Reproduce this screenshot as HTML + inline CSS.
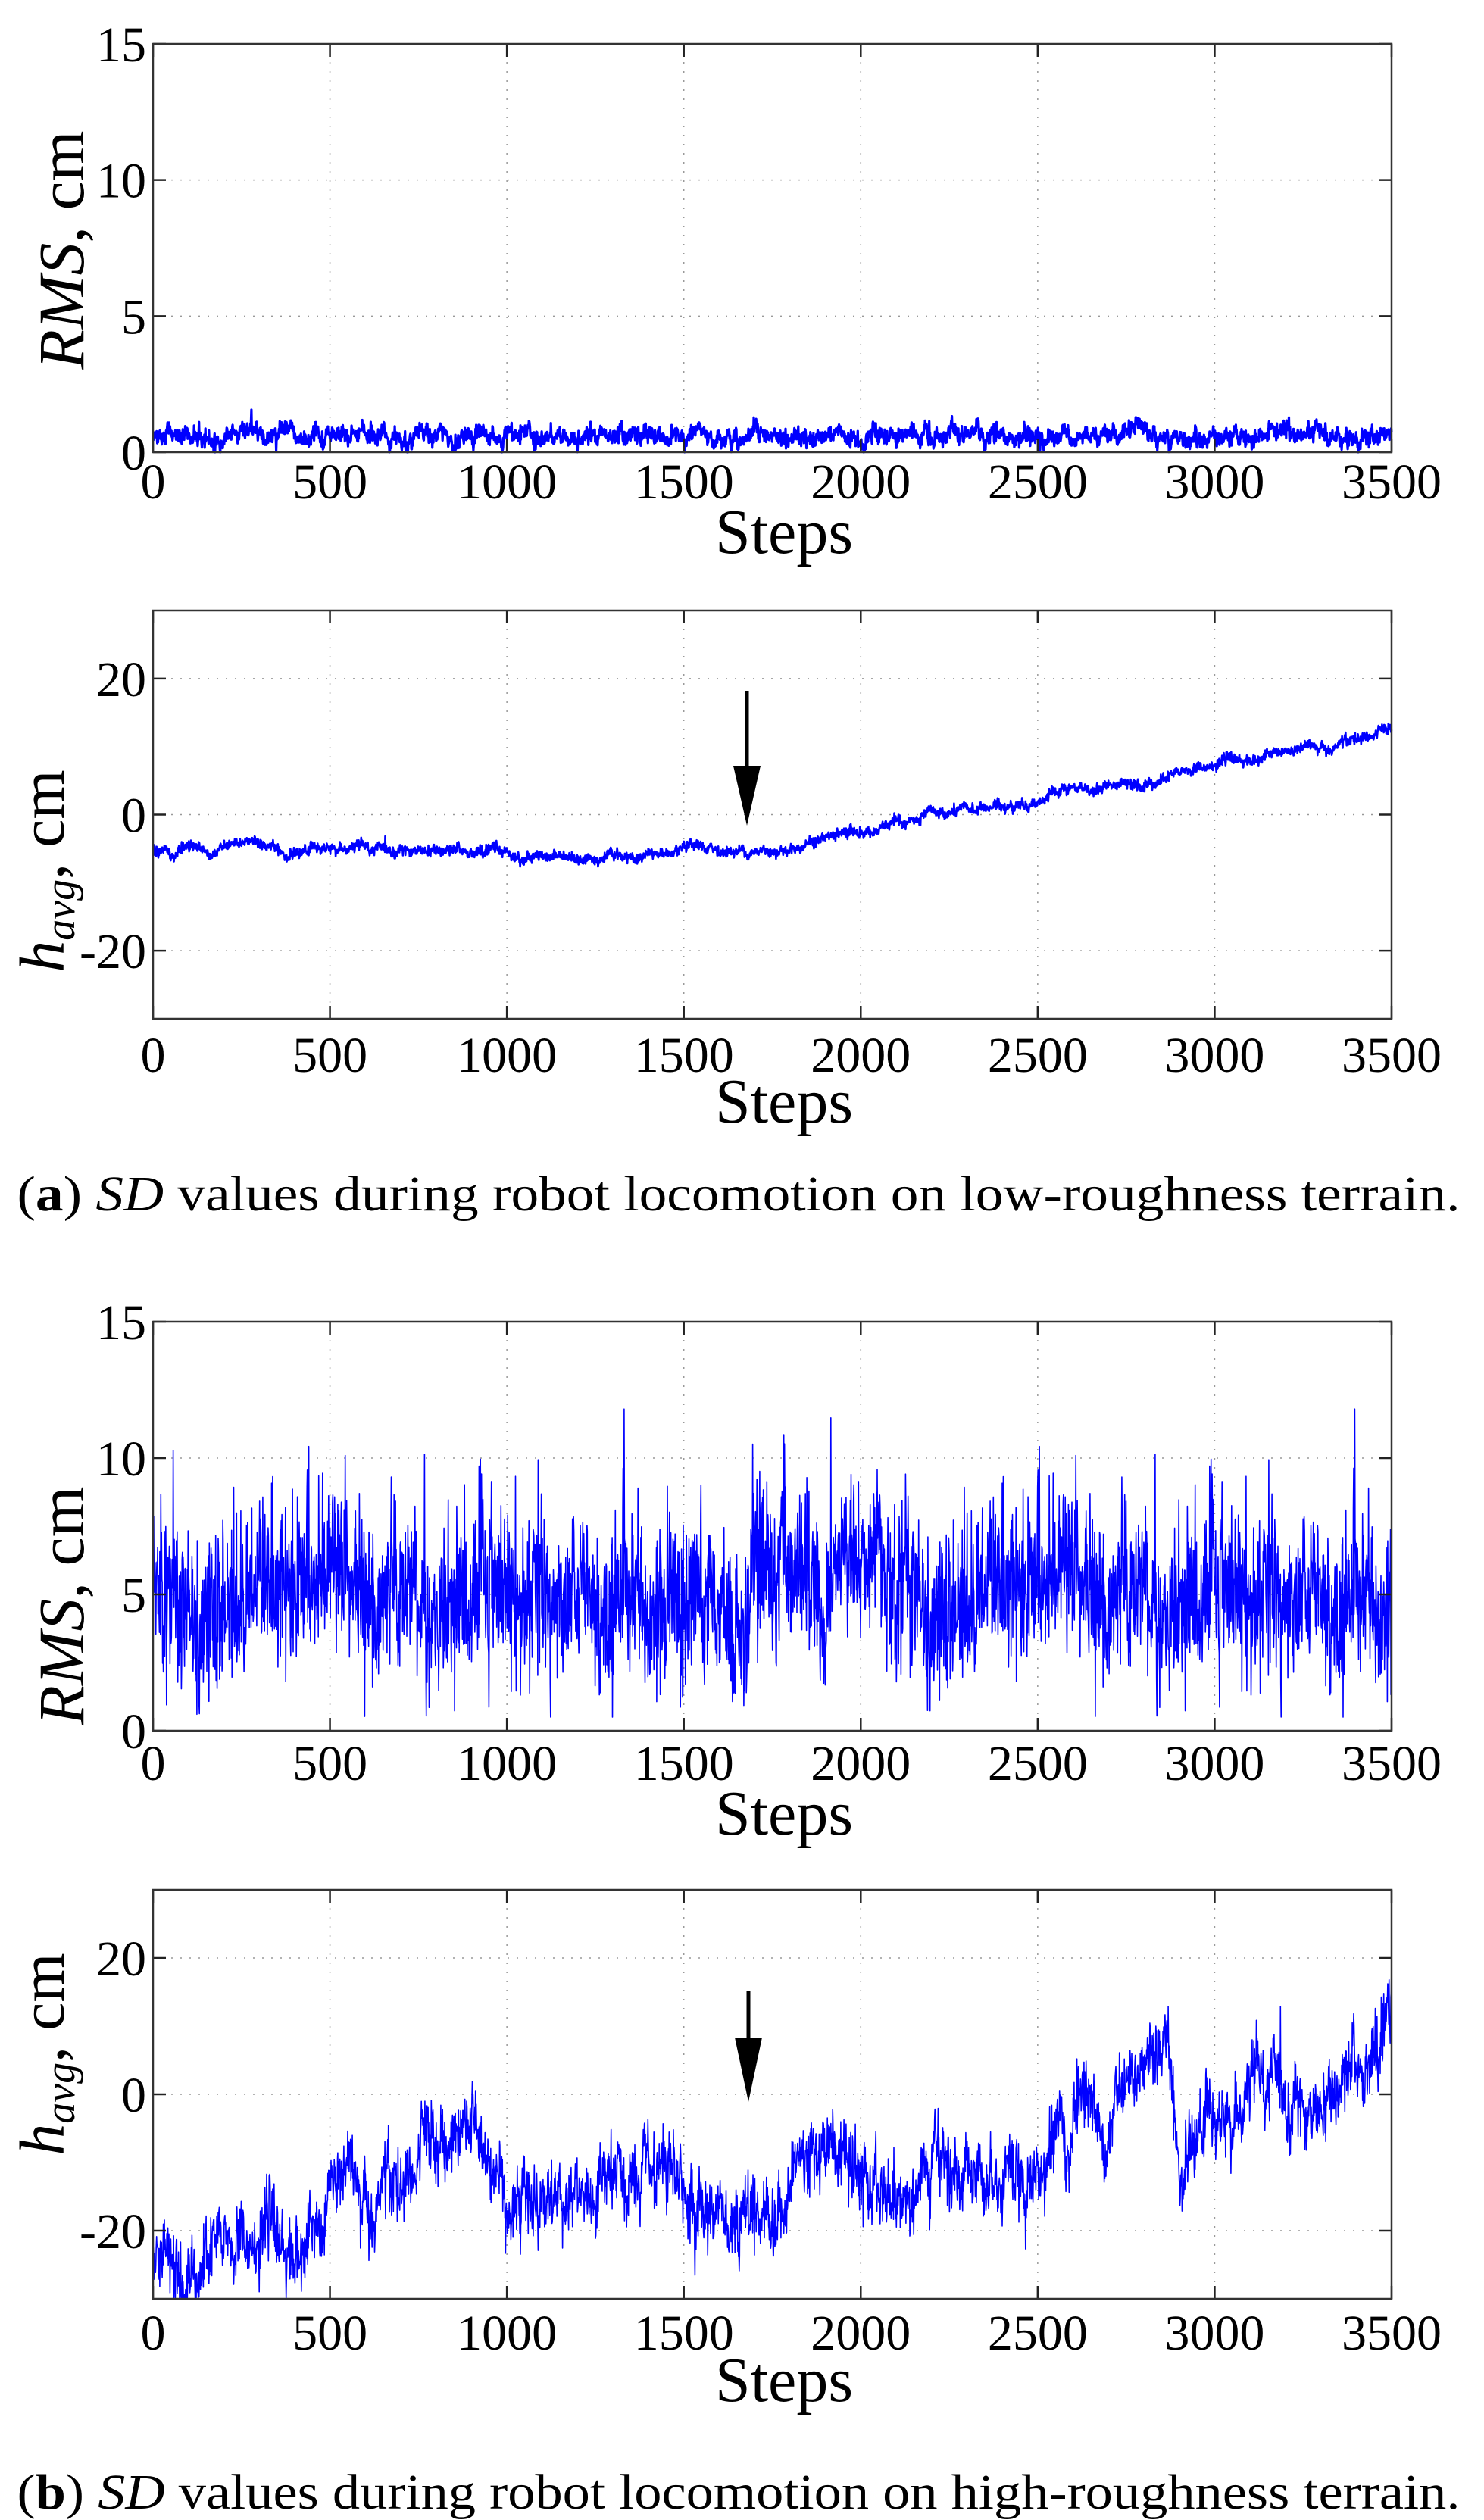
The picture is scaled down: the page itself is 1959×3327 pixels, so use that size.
<!DOCTYPE html>
<html><head><meta charset="utf-8"><style>
html,body{margin:0;padding:0;background:#fff;}
svg, svg text{font-family:"Liberation Serif","Times New Roman",serif;}
svg{display:block;}
</style></head><body>
<svg id="s" width="1959" height="3327" viewBox="0 0 1959 3327" xmlns="http://www.w3.org/2000/svg" font-family="Liberation Serif, serif">
<rect width="1959" height="3327" fill="#fff"/>
<g id="g"></g>
<text x="975" y="1598" font-size="66" font-family="Liberation Serif, serif" text-anchor="middle" textLength="1905" lengthAdjust="spacingAndGlyphs">(<tspan font-weight="bold">a</tspan>) <tspan font-style="italic">SD</tspan> values during robot locomotion on low-roughness terrain.</text>
<text x="975" y="3312" font-size="66" font-family="Liberation Serif, serif" text-anchor="middle" textLength="1905" lengthAdjust="spacingAndGlyphs">(<tspan font-weight="bold">b</tspan>) <tspan font-style="italic">SD</tspan> values during robot locomotion on high-roughness terrain.</text>
</svg>
<script>
(function(){
var NS="http://www.w3.org/2000/svg",G=document.getElementById("g");
var FF="Liberation Serif, serif";
function el(t,a,txt){var e=document.createElementNS(NS,t);if(t=="text")e.setAttribute("font-family",FF);for(var k in a)e.setAttribute(k,a[k]);if(txt!=null)e.textContent=txt;G.appendChild(e);return e;}
var seed=12345;function rnd(){seed=(seed*1103515245+12345)%2147483648;return seed/2147483648;}
function gauss(){var u=rnd()||1e-9,v=rnd();return Math.sqrt(-2*Math.log(u))*Math.cos(6.283*v);}
var L=202,R=1837;
function plot(top,bot,ymin,ymax,yt,data,lw,ylab,sub,labY,xlabY,stepsY,arrow){
  var W=R-L,H=bot-top;
  function X(v){return L+v/3500*W;} function Y(v){return bot-(v-ymin)/(ymax-ymin)*H;}
  for(var i=1;i<7;i++){var x=X(i*500);el("line",{x1:x,y1:top,x2:x,y2:bot,stroke:"#999","stroke-width":1.5,"stroke-dasharray":"2,10"});}
  yt.forEach(function(v){var y=Y(v);if(v!=ymin&&v!=ymax)el("line",{x1:L,y1:y,x2:R,y2:y,stroke:"#999","stroke-width":1.5,"stroke-dasharray":"2,10"});});
  var pts=[];for(var i=0;i<data.length;i++){var v=Math.max(ymin,Math.min(ymax,data[i]));pts.push(X(i*3500/(data.length-1)).toFixed(1)+","+Y(v).toFixed(1));}
  el("polyline",{points:pts.join(" "),fill:"none",stroke:"#0000ff","stroke-width":lw,"stroke-linejoin":"round"});
  for(var i=0;i<=7;i++){var x=X(i*500);el("line",{x1:x,y1:bot,x2:x,y2:bot-17,stroke:"#222","stroke-width":2.5});el("line",{x1:x,y1:top,x2:x,y2:top+17,stroke:"#222","stroke-width":2.5});
    el("text",{x:x,y:xlabY,"font-size":66,"text-anchor":"middle"},String(i*500));}
  yt.forEach(function(v){var y=Y(v);el("line",{x1:L,y1:y,x2:L+17,y2:y,stroke:"#222","stroke-width":2.5});el("line",{x1:R,y1:y,x2:R-17,y2:y,stroke:"#222","stroke-width":2.5});
    el("text",{x:193,y:y+23,"font-size":66,"text-anchor":"end"},String(v));});
  el("rect",{x:L,y:top,width:W,height:H,fill:"none",stroke:"#333","stroke-width":2.5});
  el("text",{x:1035,y:stepsY,"font-size":84,"text-anchor":"middle"},"Steps");
  var t;
  if(!sub){t=el("text",{x:0,y:0,"font-size":86,"text-anchor":"middle",transform:"translate(110,"+labY+") rotate(-90)"});
    var a=document.createElementNS(NS,"tspan");a.setAttribute("font-style","italic");a.textContent="RMS";t.appendChild(a);t.appendChild(document.createTextNode(", cm"));}
  else{t=el("text",{x:0,y:0,"font-size":84,"text-anchor":"middle",transform:"translate(84,"+labY+") rotate(-90)"});
    var a=document.createElementNS(NS,"tspan");a.setAttribute("font-style","italic");a.textContent="h";t.appendChild(a);
    var b=document.createElementNS(NS,"tspan");b.setAttribute("font-style","italic");b.setAttribute("font-size","56");b.setAttribute("dy","14");b.textContent="avg";t.appendChild(b);
    var c=document.createElementNS(NS,"tspan");c.setAttribute("dy","-14");c.textContent=", cm";t.appendChild(c);}
  if(arrow){var ax=arrow[0];el("line",{x1:ax,y1:arrow[1],x2:ax,y2:arrow[2]+2,stroke:"#000","stroke-width":5});
    el("polygon",{points:(ax-18)+","+arrow[2]+" "+(ax+18)+","+arrow[2]+" "+ax+","+arrow[3],fill:"#000"});}
}
var N=3500,d1=[],d2=[],d3=[],d4=[],i,s=0,a=0;
for(i=0;i<N;i++){s=0.9*s+0.08*gauss();d1.push(0.6+s+0.12*gauss()+(Math.abs(gauss())>2.6?0.35:0));}
s=0;for(i=0;i<N;i++){s=0.97*s+0.12*gauss();var m=i<1700?-5.5+0.5*Math.sin(i/250):-5.5+17.5*(i-1700)/1800;d2.push(m+s+0.35*gauss());}
s=0;for(i=0;i<N;i++){s=0.96*s+0.22*gauss();var v=5+s+1.4*gauss();if(rnd()<0.03)v+=2.2*Math.abs(gauss());d3.push(Math.max(0.5,Math.min(11.8,v)));}
var keys=[[0,-23],[480,-22],[500,-13],[700,-14],[900,-3],[1000,-14],[1500,-15],[1750,-17],[1870,-5],[2050,-16],[2300,-10],[2520,-11],[2540,-5],[2800,-2],[2860,8],[2900,-5],[3050,-4],[3150,2],[3280,-4],[3500,7]];
function tr(x){for(var k=1;k<keys.length;k++)if(x<=keys[k][0]){var p=keys[k-1],q=keys[k];return p[1]+(q[1]-p[1])*(x-p[0])/(q[0]-p[0]);}return 7;}
s=0;for(i=0;i<N;i++){s=0.95*s+0.9*gauss();d4.push(tr(i)+s+2.2*gauss());}
plot(58,597,0,15,[0,5,10,15],d1,3.2,false,false,330,658,730,null);
plot(806,1345,-30,30,[-20,0,20],d2,2.6,true,true,1150,1415,1482,[986,912,1011,1090]);
plot(1745,2285,0,15,[0,5,10,15],d3,1.6,false,false,2120,2350,2422,null);
plot(2495,3035,-30,30,[-20,0,20],d4,1.6,true,true,2712,3102,3170,[988,2629,2690,2775]);
})();
</script>
</body></html>
